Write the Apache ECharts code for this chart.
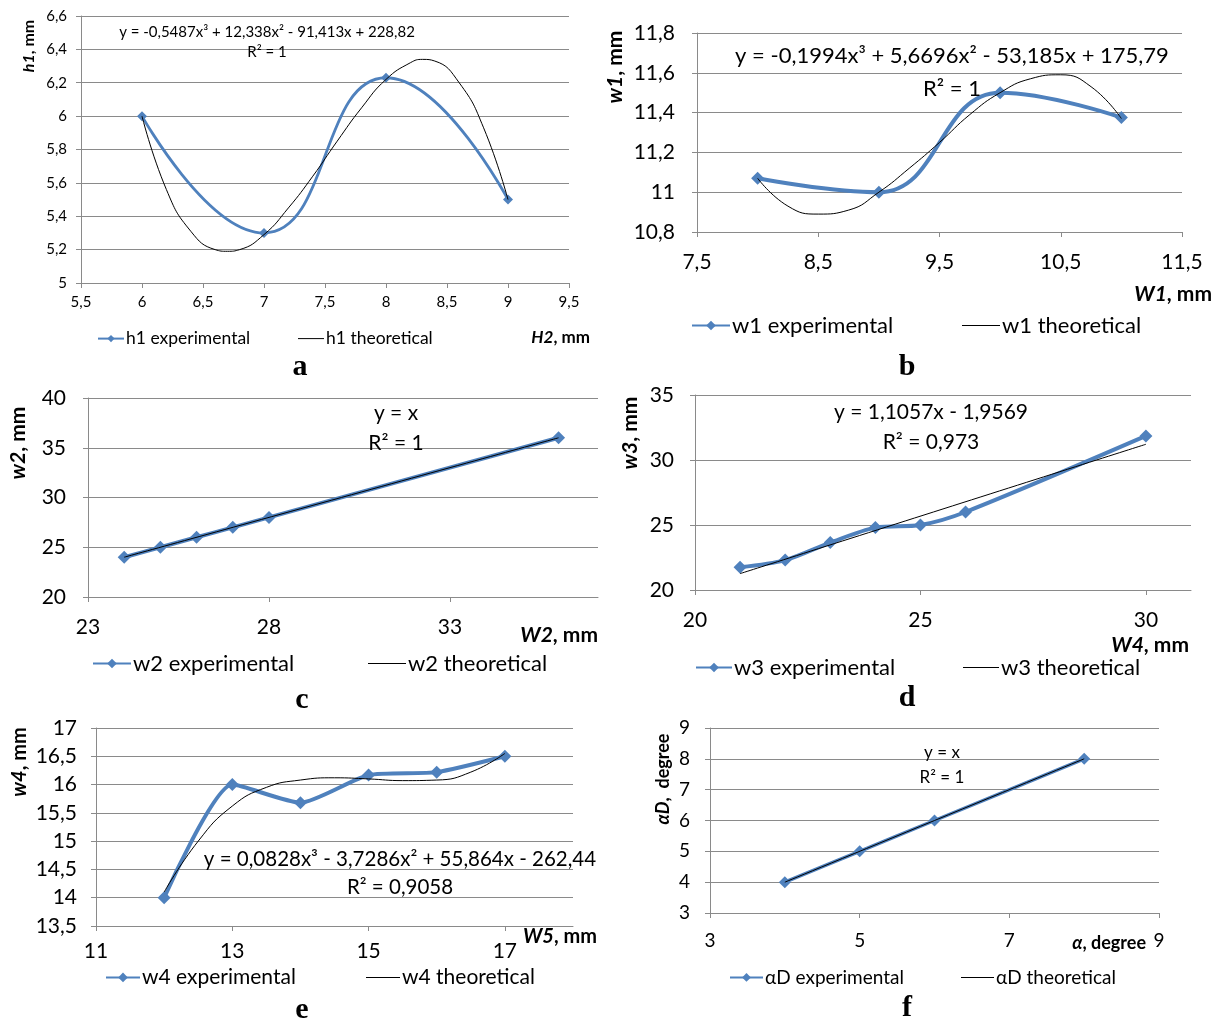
<!DOCTYPE html>
<html>
<head>
<meta charset="utf-8">
<script src="https://cdn.jsdelivr.net/npm/echarts@6/dist/echarts.min.js"></script>
<style>
  html, body { margin: 0; padding: 0; background: #fff; }
  #chart { width: 1216px; height: 1021px; }
</style>
</head>
<body>
<div id="chart"></div>
<script>
// ---------- data ----------
// (a) h1 against H2
const h1X = [6, 7, 8, 9];
const h1Exp = [6.0, 5.3, 6.23, 5.5];
const h1TheoX = [6, 6.2, 6.4, 6.6, 6.7, 6.8, 7, 7.2, 7.4, 7.6, 7.8, 8, 8.2, 8.3, 8.4, 8.6, 8.8, 9];
const h1Theo = [6.0, 5.56, 5.31, 5.2, 5.19, 5.2, 5.29, 5.45, 5.64, 5.85, 6.05, 6.22, 6.32, 6.34, 6.33, 6.2, 5.93, 5.5];

// (b) w1 against W1
const w1X = [8, 9, 10, 11];
const w1Exp = [11.07, 11.0, 11.5, 11.375];
const w1TheoX = [8, 8.25, 8.5, 8.75, 9, 9.25, 9.5, 9.75, 10, 10.25, 10.5, 10.75, 11];
const w1Theo = [11.07, 10.93, 10.89, 10.91, 11.0, 11.12, 11.25, 11.39, 11.5, 11.57, 11.59, 11.53, 11.37];

// (c) w2 against W2
const w2X = [24, 25, 26, 27, 28, 36];
const w2Exp = [24, 25, 26, 27, 28, 36];
const w2TheoX = [24, 36];
const w2Theo = [24, 36];

// (d) w3 against W4
const w3X = [21, 22, 23, 24, 25, 26, 30];
const w3Exp = [21.75, 22.3, 23.65, 24.8, 25.0, 26.0, 31.85];
const w3TheoX = [21, 30];
const w3Theo = [21.26, 31.21];

// (e) w4 against W5
const w4X = [12, 13, 14, 15, 16, 17];
const w4Exp = [14.0, 16.0, 15.68, 16.17, 16.22, 16.5];
const w4TheoX = [12, 12.5, 13, 13.5, 14, 14.5, 15, 15.5, 16, 16.5, 17];
const w4Theo = [14.1, 15.0, 15.62, 15.95, 16.08, 16.12, 16.1, 16.07, 16.08, 16.22, 16.55];

// (f) alphaD against alpha
const aDX = [4, 5, 6, 8];
const aDExp = [4, 5, 6, 8];
const aDTheoX = [4, 8];
const aDTheo = [4, 8];

// x tick labels
const aXTicks = [5.5, 6, 6.5, 7, 7.5, 8, 8.5, 9, 9.5];
const bXTicks = [7.5, 8.5, 9.5, 10.5, 11.5];
const cXTicks = [23, 28, 33];
const dXTicks = [20, 25, 30];
const eXTicks = [11, 13, 15, 17];
const fXTicks = [3, 5, 7, 9];

// ---------- styling ----------
const FONT = 'Lato, "Noto Sans", sans-serif';
const SERIF = '"Liberation Serif", "DejaVu Serif", serif';
const BLUE = '#4F81BD';
const GRAY = '#8a8a8a';
const comma = v => String(Math.round(v * 1000) / 1000).replace('.', ',');
const zip = (xs, ys) => xs.map((x, i) => [x, ys[i]]);

const panels = [
  {
    exp: 'h1 experimental', theo: 'h1 theoretical',
    expData: zip(h1X, h1Exp), theoData: zip(h1TheoX, h1Theo),
    grid: { left: 81, top: 16, width: 488, height: 267 },
    x: { min: 5.5, max: 9.5, ticks: aXTicks }, y: { min: 5, max: 6.6, interval: 0.2 },
    tick: 15, xMargin: 12, yMargin: 14, lw: 2.8, sym: 10, smooth: 0.5,
    legend: { size: 17.5, y: 338, expLeft: 97, theoLeft: 298, iw: 26 },
    eq: [{ t: 'y = -0,5487x³ + 12,338x² - 91,413x + 228,82', x: 267, y: 32 }, { t: 'R² = 1', x: 267, y: 52 }], eqSize: 15,
    xName: { v: 'H2', x: 590, y: 338, size: 17 }, yName: { v: 'h1', rest: ', mm', x: 29, y: 46, size: 16 },
    letter: { t: 'a', x: 300, y: 367 }
  },
  {
    exp: 'w1 experimental', theo: 'w1 theoretical',
    expData: zip(w1X, w1Exp), theoData: zip(w1TheoX, w1Theo),
    grid: { left: 697, top: 33, width: 485, height: 199 },
    x: { min: 7.5, max: 11.5, ticks: bXTicks }, y: { min: 10.8, max: 11.8, interval: 0.2 },
    tick: 21, xMargin: 20, yMargin: 22, lw: 4, sym: 13, smooth: 0.45,
    legend: { size: 22, y: 325, expLeft: 691, theoLeft: 962, iw: 38 },
    eq: [{ t: 'y = -0,1994x³ + 5,6696x² - 53,185x + 175,79', x: 952, y: 56 }, { t: 'R² = 1', x: 952, y: 89 }], eqSize: 22,
    xName: { v: 'W1', x: 1212, y: 294, size: 21 }, yName: { v: 'w1', rest: ', mm', x: 615, y: 67, size: 21 },
    letter: { t: 'b', x: 907, y: 367 }
  },
  {
    exp: 'w2 experimental', theo: 'w2 theoretical',
    expData: zip(w2X, w2Exp), theoData: zip(w2TheoX, w2Theo),
    grid: { left: 88, top: 398, width: 510, height: 199 },
    x: { min: 23, max: 37.09, ticks: cXTicks }, y: { min: 20, max: 40, interval: 5 },
    tick: 21, xMargin: 20, yMargin: 22, lw: 4, sym: 13, smooth: 0.3,
    legend: { size: 22, y: 663, expLeft: 92, theoLeft: 368, iw: 38 },
    eq: [{ t: 'y = x', x: 396, y: 413 }, { t: 'R² = 1', x: 396, y: 443 }], eqSize: 21,
    xName: { v: 'W2', x: 598, y: 635, size: 21 }, yName: { v: 'w2', rest: ', mm', x: 18, y: 443, size: 21 },
    letter: { t: 'c', x: 302, y: 700 }
  },
  {
    exp: 'w3 experimental', theo: 'w3 theoretical',
    expData: zip(w3X, w3Exp), theoData: zip(w3TheoX, w3Theo),
    grid: { left: 695, top: 395, width: 496, height: 195 },
    x: { min: 20, max: 31, ticks: dXTicks }, y: { min: 20, max: 35, interval: 5 },
    tick: 21, xMargin: 20, yMargin: 21, lw: 4, sym: 13, smooth: 0.3,
    legend: { size: 22, y: 667, expLeft: 695, theoLeft: 963, iw: 36 },
    eq: [{ t: 'y = 1,1057x - 1,9569', x: 931, y: 412 }, { t: 'R² = 0,973', x: 931, y: 442 }], eqSize: 21,
    xName: { v: 'W4', x: 1189, y: 645, size: 21 }, yName: { v: 'w3', rest: ', mm', x: 630, y: 433, size: 21 },
    letter: { t: 'd', x: 907, y: 698 }
  },
  {
    exp: 'w4 experimental', theo: 'w4 theoretical',
    expData: zip(w4X, w4Exp), theoData: zip(w4TheoX, w4Theo),
    grid: { left: 96, top: 728, width: 477, height: 198 },
    x: { min: 11, max: 18, ticks: eXTicks }, y: { min: 13.5, max: 17, interval: 0.5 },
    tick: 21, xMargin: 15, yMargin: 19, lw: 4, sym: 13, smooth: 0.2,
    legend: { size: 21, y: 977, expLeft: 105, theoLeft: 366, iw: 34 },
    eq: [{ t: 'y = 0,0828x³ - 3,7286x² + 55,864x - 262,44', x: 400, y: 859 }, { t: 'R² = 0,9058', x: 400, y: 887 }], eqSize: 20.5,
    xName: { v: 'W5', x: 597, y: 937, size: 20 }, yName: { v: 'w4', rest: ', mm', x: 20, y: 762, size: 20 },
    letter: { t: 'e', x: 302, y: 1010 }
  },
  {
    exp: 'αD experimental', theo: 'αD theoretical',
    expData: zip(aDX, aDExp), theoData: zip(aDTheoX, aDTheo),
    grid: { left: 710, top: 728, width: 449, height: 185 },
    x: { min: 3, max: 9, ticks: fXTicks }, y: { min: 3, max: 9, interval: 1 },
    tick: 19, xMargin: 18, yMargin: 20, lw: 3.5, sym: 12, smooth: 0.3,
    legend: { size: 19, y: 977, expLeft: 729, theoLeft: 961, iw: 33 },
    eq: [{ t: 'y = x', x: 942, y: 753 }, { t: 'R² = 1', x: 942, y: 778 }], eqSize: 17,
    xName: { v: 'α', rest: ', degree', x: 1146, y: 943, size: 18 }, yName: { v: 'αD', rest: ',  degree', x: 663, y: 779, size: 18 },
    letter: { t: 'f', x: 907, y: 1008 }
  }
];

const grid = [], xAxis = [], yAxis = [], series = [], legend = [], graphic = [];

panels.forEach((p, i) => {
  grid.push(Object.assign({ containLabel: false }, p.grid));
  xAxis.push({
    type: 'value', gridIndex: i, min: p.x.min, max: p.x.max,
    axisLine: { show: true, onZero: false, lineStyle: { color: GRAY, width: 1 } },
    axisTick: { show: true, length: 5, customValues: p.x.ticks, lineStyle: { color: GRAY } },
    axisLabel: { customValues: p.x.ticks, formatter: comma, fontSize: p.tick, fontFamily: FONT, color: '#000', margin: p.xMargin },
    splitLine: { show: false }
  });
  yAxis.push({
    type: 'value', gridIndex: i, min: p.y.min, max: p.y.max, interval: p.y.interval,
    axisLine: { show: true, onZero: false, lineStyle: { color: GRAY, width: 1 } },
    axisTick: { show: true, length: 5, lineStyle: { color: GRAY } },
    axisLabel: { formatter: comma, fontSize: p.tick, fontFamily: FONT, color: '#000', margin: p.yMargin },
    splitLine: { show: true, lineStyle: { color: GRAY, width: 1 } }
  });
  series.push({
    type: 'line', name: p.exp, xAxisIndex: i, yAxisIndex: i, data: p.expData,
    smooth: p.smooth, symbol: 'diamond', symbolSize: p.sym, showAllSymbol: true,
    itemStyle: { color: BLUE }, lineStyle: { color: BLUE, width: p.lw }, z: 2
  });
  series.push({
    type: 'line', name: p.theo, xAxisIndex: i, yAxisIndex: i, data: p.theoData,
    smooth: true, symbol: 'none',
    itemStyle: { color: '#000' }, lineStyle: { color: '#000', width: 1 }, z: 3
  });
  const lg = p.legend;
  const textStyle = { fontSize: lg.size, fontFamily: FONT, color: '#000', padding: [0, 0, 0, -3] };
  // experimental: blue line with a diamond
  legend.push({
    data: [p.exp], left: lg.expLeft, top: lg.y - lg.size * 0.48, padding: 0,
    itemWidth: lg.iw, itemHeight: Math.round(p.sym * 0.9), itemGap: 0,
    selectedMode: false, textStyle
  });
  // theoretical: plain thin black line
  legend.push({
    data: [{ name: p.theo, icon: 'rect' }], left: lg.theoLeft, top: lg.y - lg.size * 0.48, padding: 0,
    itemWidth: lg.iw, itemHeight: 1, itemGap: 0,
    selectedMode: false, textStyle
  });
  p.eq.forEach(e => graphic.push({
    type: 'text', x: e.x, y: e.y, z: 10,
    style: { text: e.t, fontSize: p.eqSize, fontFamily: FONT, fill: '#000', textAlign: 'center', textVerticalAlign: 'middle' }
  }));
  const rich = s => ({
    bi: { fontSize: s, fontFamily: FONT, fontWeight: 'bold', fontStyle: 'italic', fill: '#000' },
    b: { fontSize: s, fontFamily: FONT, fontWeight: 'bold', fill: '#000' }
  });
  graphic.push({
    type: 'text', x: p.xName.x, y: p.xName.y, z: 10,
    style: { text: '{bi|' + p.xName.v + '}{b|' + (p.xName.rest || ', mm') + '}', rich: rich(p.xName.size), textAlign: 'right', textVerticalAlign: 'middle' }
  });
  graphic.push({
    type: 'text', x: p.yName.x, y: p.yName.y, rotation: Math.PI / 2, z: 10,
    style: { text: '{bi|' + p.yName.v + '}{b|' + p.yName.rest + '}', rich: rich(p.yName.size), textAlign: 'center', textVerticalAlign: 'middle' }
  });
  graphic.push({
    type: 'text', x: p.letter.x, y: p.letter.y, z: 10,
    style: { text: p.letter.t, fontSize: 30, fontWeight: 'bold', fontFamily: SERIF, fill: '#000', textAlign: 'center', textVerticalAlign: 'middle' }
  });
});

const chart = echarts.init(document.getElementById('chart'), null, { renderer: 'canvas' });
chart.setOption({
  backgroundColor: '#fff',
  animation: false,
  grid, xAxis, yAxis, series, legend, graphic
});
</script>
</body>
</html>
